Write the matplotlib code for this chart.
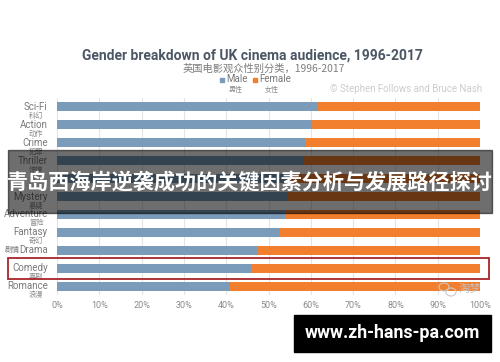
import matplotlib
matplotlib.use("Agg")
from matplotlib import pyplot as plt
from matplotlib.patches import Rectangle, Ellipse

genres = ["Sci-Fi", "Action", "Crime", "Thriller", "Horror", "Mystery",
          "Adventure", "Fantasy", "Drama", "Comedy", "Romance"]
genres_cn = ["科幻", "动作", "犯罪", "惊悚", "恐怖", "悬疑",
             "冒险", "奇幻", "剧情", "喜剧", "浪漫"]
male = [61.7, 60.2, 58.6, 58.2, 54.8, 54.7, 54.0, 52.5, 47.4, 45.8, 41.0]
female = [38.3, 39.8, 41.4, 41.8, 45.2, 45.3, 46.0, 47.5, 52.6, 54.2, 59.0]
ticks = [0, 10, 20, 30, 40, 50, 60, 70, 80, 90, 100]
hidden_rows = ["Horror"]  # row label sits under the banner headline

W, H = 500, 362
MALE_C = "#7a9bb9"
FEMALE_C = "#f27f2e"
LATIN = ["Roboto", "DejaVu Sans"]
CJK = ["Noto Sans CJK SC", "DejaVu Sans"]


def fx(x):
    return x / W


def fy(y):
    return 1 - y / H


fig = plt.figure(figsize=(5, 3.62), dpi=100)
ax = fig.add_axes([fx(57), fy(295), fx(480) - fx(57), fy(98) - fy(295)])

rows = list(range(len(genres)))
ax.barh(rows, male, height=0.5, color=MALE_C, zorder=2)
ax.barh(rows, female, left=male, height=0.5, color=FEMALE_C, zorder=2)
ax.set_ylim(len(genres) - 0.5, -0.5)
ax.set_xlim(0, 100)
ax.set_xticks(ticks)
ax.set_xticklabels([f"{t}%" for t in ticks], family=LATIN, fontsize=6.5,
                   color="#8a8a8a")
ax.tick_params(axis="x", length=0, pad=4)
ax.set_yticks([])
ax.grid(axis="x", color="#e4e4e4", linewidth=0.8, zorder=0)
for s in ax.spines.values():
    s.set_visible(False)

# row labels
ytr = ax.get_yaxis_transform()
for i, (en, cn) in enumerate(zip(genres, genres_cn)):
    if en in hidden_rows:
        continue
    ax.text(-0.022, i, en, transform=ytr, ha="right", va="center",
            fontsize=7, color="#7a7a7a", family=LATIN)
    if en == "Drama":
        ax.text(-0.088, i, cn, transform=ytr, ha="right", va="center",
                fontsize=5.5, color="#7a7a7a", family=CJK)
    else:
        ax.text(-0.032, i + 0.5, cn, transform=ytr, ha="right",
                va="center", fontsize=5.2, color="#8a8a8a", family=CJK)

# titles and legend
fig.text(fx(252), fy(55.5), "Gender breakdown of UK cinema audience, 1996-2017",
         ha="center", va="center", fontsize=10, fontweight="bold",
         color="#4b5764", family=LATIN)
fig.text(fx(264), fy(68.5), "英国电影观众性别分类，1996-2017", ha="center",
         va="center", fontsize=7.4, color="#7d7d7d", family=CJK)
fig.patches.append(Rectangle((fx(220), fy(81.5)), fx(4), 4 / H,
                             color=MALE_C, transform=fig.transFigure))
fig.text(fx(226), fy(79), "Male", ha="left", va="center", fontsize=7,
         color="#777777", family=LATIN)
fig.patches.append(Rectangle((fx(253), fy(81.5)), fx(4), 4 / H,
                             color=FEMALE_C, transform=fig.transFigure))
fig.text(fx(259), fy(79), "Female", ha="left", va="center", fontsize=7,
         color="#777777", family=LATIN)
fig.text(fx(236), fy(90), "男性", ha="center", va="center", fontsize=5,
         color="#8a8a8a", family=CJK)
fig.text(fx(272), fy(90), "女性", ha="center", va="center", fontsize=5,
         color="#8a8a8a", family=CJK)
fig.text(fx(482), fy(89.5), "© Stephen Follows and Bruce Nash", ha="right",
         va="center", fontsize=7, color="#cccccc", family=LATIN)

# highlight box around Comedy
fig.patches.append(Rectangle((fx(8), fy(278.5)), fx(481), 20.5 / H,
                             fill=False, edgecolor="#a8242a", linewidth=1.3,
                             transform=fig.transFigure, zorder=5))

# watermark
fig.patches.append(Ellipse((fx(444), fy(287)), fx(10), 8 / H, fill=False,
                           edgecolor="#c8c8c8", linewidth=0.8,
                           transform=fig.transFigure))
fig.patches.append(Ellipse((fx(451), fy(292)), fx(10), 8 / H, fill=False,
                           edgecolor="#c8c8c8", linewidth=0.8,
                           transform=fig.transFigure))
fig.text(fx(470), fy(289), "淘梦", ha="center", va="center", fontsize=8,
         color="#c4c4c4", family=CJK, fontstyle="italic")

# dark banner with headline
fig.patches.append(Rectangle((fx(8), fy(213)), fx(484), 63 / H,
                             color="black", alpha=0.57,
                             transform=fig.transFigure, zorder=10))
fig.text(fx(250), fy(183), "青岛西海岸逆袭成功的关键因素分析与发展路径探讨",
         ha="center", va="center", fontsize=15.2, fontweight="bold",
         color="white", family=CJK, zorder=11)

# url box
fig.patches.append(Rectangle((fx(294), fy(352)), fx(197), 37 / H,
                             color="black", transform=fig.transFigure,
                             zorder=10))
fig.text(fx(392), fy(333), "www.zh-hans-pa.com", ha="center", va="center",
         fontsize=12.8, fontweight="bold", color="white", family=LATIN,
         zorder=11)

fig.savefig("out.png", dpi=100)
